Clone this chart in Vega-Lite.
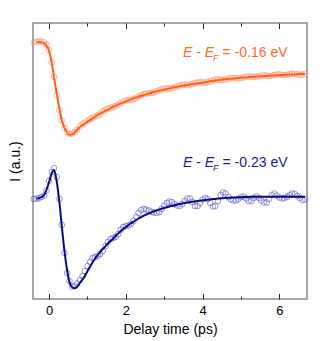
{
"$schema": "https://vega.github.io/schema/vega-lite/v6.json",
"width": 274, "height": 276,
"autosize": {"type": "none"},
"padding": {"left": 33, "top": 23, "right": 25, "bottom": 42},
"config": {
  "view": {"stroke": "#8a8a8a", "strokeWidth": 1.5},
  "font": "Liberation Sans",
  "axis": {"domain": false, "grid": false, "labelFont": "Liberation Sans", "titleFont": "Liberation Sans", "labelFontSize": 13, "titleFontSize": 14, "titleFontWeight": "normal", "labelColor": "#000", "titleColor": "#000", "tickColor": "#222", "tickWidth": 1}
},
"data": {"values": [
{"t":-0.40,"o":256.5,"of":null,"n":100,"nf":null},
{"t":-0.33,"o":257.3,"of":257,"n":100.3,"nf":100.5},
{"t":-0.27,"o":257.6,"of":257,"n":100.8,"nf":100.8},
{"t":-0.20,"o":257.3,"of":256.8,"n":102,"nf":101.8},
{"t":-0.13,"o":256.6,"of":256,"n":103.5,"nf":104},
{"t":-0.07,"o":254.5,"of":253.5,"n":108.5,"nf":109},
{"t":0.00,"o":249,"of":248,"n":118,"nf":117},
{"t":0.07,"o":236.5,"of":236,"n":127,"nf":126},
{"t":0.13,"o":222,"of":221,"n":131,"nf":129},
{"t":0.20,"o":204,"of":205,"n":122,"nf":117},
{"t":0.27,"o":189,"of":190,"n":100,"nf":96},
{"t":0.33,"o":178.5,"of":179,"n":74,"nf":73},
{"t":0.40,"o":171,"of":171,"n":46,"nf":48},
{"t":0.47,"o":166.5,"of":166.3,"n":26,"nf":28.5},
{"t":0.53,"o":164.8,"of":164.3,"n":18,"nf":17},
{"t":0.60,"o":165.3,"of":164.6,"n":12.5,"nf":11.8},
{"t":0.67,"o":167,"of":166.6,"n":13,"nf":10.8},
{"t":0.73,"o":169.5,"of":169.3,"n":15.5,"nf":12.3},
{"t":0.80,"o":172.5,"of":171.9,"n":19,"nf":16},
{"t":0.87,"o":174.8,"of":173.9,"n":23,"nf":19.5},
{"t":0.93,"o":176.5,"of":175.5,"n":28,"nf":23},
{"t":1.00,"o":178.3,"of":177.4,"n":33,"nf":28},
{"t":1.07,"o":180,"of":179.2,"n":37,"nf":32.5},
{"t":1.13,"o":181.3,"of":180.7,"n":41,"nf":36.5},
{"t":1.20,"o":182.5,"of":182.4,"n":42,"nf":40.5},
{"t":1.27,"o":183.8,"of":184.0,"n":43,"nf":44},
{"t":1.33,"o":185.5,"of":185.3,"n":45,"nf":47},
{"t":1.40,"o":187.5,"of":186.8,"n":48,"nf":50},
{"t":1.47,"o":189.3,"of":188.3,"n":53,"nf":52.8},
{"t":1.53,"o":190.5,"of":189.5,"n":57,"nf":55.5},
{"t":1.60,"o":191.3,"of":190.9,"n":60,"nf":58},
{"t":1.67,"o":192,"of":192.1,"n":61,"nf":60.5},
{"t":1.73,"o":193,"of":193.3,"n":62,"nf":63},
{"t":1.80,"o":194.6,"of":194.5,"n":65,"nf":65.5},
{"t":1.87,"o":196.3,"of":195.6,"n":69.5,"nf":68},
{"t":1.93,"o":197.6,"of":196.6,"n":72,"nf":70},
{"t":2.00,"o":198.5,"of":197.7,"n":73,"nf":72},
{"t":2.07,"o":199,"of":198.7,"n":73.5,"nf":74},
{"t":2.13,"o":199.3,"of":199.6,"n":75,"nf":75.8},
{"t":2.20,"o":200,"of":200.6,"n":78,"nf":77.5},
{"t":2.27,"o":201,"of":201.5,"n":82,"nf":79},
{"t":2.33,"o":202.5,"of":202.3,"n":86,"nf":80.5},
{"t":2.40,"o":204,"of":203.2,"n":89,"nf":82},
{"t":2.47,"o":205,"of":204.0,"n":90,"nf":83.3},
{"t":2.53,"o":205.5,"of":204.7,"n":89.5,"nf":84.5},
{"t":2.60,"o":205.8,"of":205.5,"n":88.5,"nf":85.6},
{"t":2.67,"o":206,"of":206.3,"n":87,"nf":86.7},
{"t":2.73,"o":206.5,"of":206.9,"n":86.5,"nf":87.7},
{"t":2.80,"o":207.5,"of":207.6,"n":86,"nf":88.6},
{"t":2.87,"o":208.8,"of":208.3,"n":87,"nf":89.5},
{"t":2.93,"o":209.8,"of":208.9,"n":90,"nf":90.3},
{"t":3.00,"o":210.5,"of":209.5,"n":93,"nf":91},
{"t":3.07,"o":210.6,"of":210.1,"n":96,"nf":91.8},
{"t":3.13,"o":210.5,"of":210.6,"n":97.5,"nf":92.5},
{"t":3.20,"o":210.8,"of":211.2,"n":97,"nf":93.1},
{"t":3.27,"o":211.5,"of":211.7,"n":95,"nf":93.7},
{"t":3.33,"o":212.6,"of":212.2,"n":93.5,"nf":94.3},
{"t":3.40,"o":213.5,"of":212.7,"n":93,"nf":94.9},
{"t":3.47,"o":214,"of":213.2,"n":95,"nf":95.4},
{"t":3.53,"o":214.2,"of":213.6,"n":98,"nf":95.9},
{"t":3.60,"o":214,"of":214.1,"n":100.5,"nf":96.4},
{"t":3.67,"o":214.3,"of":214.5,"n":100.5,"nf":96.8},
{"t":3.73,"o":215,"of":214.9,"n":97,"nf":97.2},
{"t":3.80,"o":215.8,"of":215.3,"n":93,"nf":97.6},
{"t":3.87,"o":216.5,"of":215.7,"n":93,"nf":98},
{"t":3.93,"o":216.8,"of":216.0,"n":96,"nf":98.3},
{"t":4.00,"o":216.6,"of":216.4,"n":99.5,"nf":98.7},
{"t":4.07,"o":216.5,"of":216.8,"n":101,"nf":99},
{"t":4.13,"o":217,"of":217.1,"n":100,"nf":99.3},
{"t":4.20,"o":217.8,"of":217.9,"n":96,"nf":99.6},
{"t":4.27,"o":218.6,"of":218.2,"n":92.5,"nf":99.9},
{"t":4.33,"o":219.3,"of":218.5,"n":93,"nf":100.1},
{"t":4.40,"o":219.5,"of":218.9,"n":98,"nf":100.4},
{"t":4.47,"o":219.2,"of":219.2,"n":104,"nf":100.6},
{"t":4.53,"o":219,"of":219.4,"n":106.5,"nf":100.8},
{"t":4.60,"o":219.4,"of":219.8,"n":105.5,"nf":101},
{"t":4.67,"o":220.2,"of":220.0,"n":102,"nf":101.2},
{"t":4.73,"o":221,"of":220.3,"n":99.5,"nf":101.3},
{"t":4.80,"o":221.3,"of":220.5,"n":98.5,"nf":101.5},
{"t":4.87,"o":221,"of":220.8,"n":98.5,"nf":101.6},
{"t":4.93,"o":220.6,"of":221.0,"n":100,"nf":101.7},
{"t":5.00,"o":220.8,"of":221.2,"n":102,"nf":101.8},
{"t":5.07,"o":221.5,"of":221.4,"n":102.5,"nf":101.9},
{"t":5.13,"o":222.2,"of":221.6,"n":100.5,"nf":102},
{"t":5.20,"o":222.5,"of":221.9,"n":98,"nf":102.1},
{"t":5.27,"o":222.3,"of":222.1,"n":98,"nf":102.2},
{"t":5.33,"o":222,"of":222.2,"n":101,"nf":102.2},
{"t":5.40,"o":222.2,"of":222.4,"n":102.5,"nf":102.3},
{"t":5.47,"o":222.9,"of":222.6,"n":101,"nf":102.3},
{"t":5.53,"o":223.4,"of":222.8,"n":98.5,"nf":102.3},
{"t":5.60,"o":223.6,"of":223.0,"n":96.5,"nf":102.3},
{"t":5.67,"o":223.3,"of":223.1,"n":96.5,"nf":102.3},
{"t":5.73,"o":223,"of":223.3,"n":100,"nf":102.3},
{"t":5.80,"o":223.3,"of":223.5,"n":104,"nf":102.3},
{"t":5.87,"o":224,"of":223.6,"n":105.5,"nf":102.3},
{"t":5.93,"o":224.5,"of":223.7,"n":103.5,"nf":102.3},
{"t":6.00,"o":224.6,"of":223.8,"n":101.5,"nf":102.3},
{"t":6.07,"o":224.2,"of":224.0,"n":100.5,"nf":102.3},
{"t":6.13,"o":223.9,"of":224.2,"n":101,"nf":102.3},
{"t":6.20,"o":224.2,"of":224.3,"n":102,"nf":102.3},
{"t":6.27,"o":224.9,"of":224.4,"n":104,"nf":102.3},
{"t":6.33,"o":225.3,"of":224.5,"n":105.5,"nf":102.3},
{"t":6.40,"o":225.2,"of":224.6,"n":105,"nf":102.3},
{"t":6.47,"o":224.8,"of":224.8,"n":103,"nf":102.3},
{"t":6.53,"o":224.3,"of":224.9,"n":101,"nf":102.3},
{"t":6.60,"o":224.5,"of":224.9,"n":99,"nf":102.3},
{"t":6.67,"o":225,"of":225.0,"n":99.5,"nf":102.3}
]},
"resolve": {"axis": {"x": "independent", "y": "independent"}},
"layer": [
  {"mark": {"type": "point", "shape": "circle", "filled": false, "size": 32, "strokeWidth": 0.8, "color": "#ff8a5c", "opacity": 0.8},
   "encoding": {
     "x": {"field": "t", "type": "quantitative", "scale": {"domain": [-0.42, 6.72], "nice": false, "zero": false},
           "axis": {"orient": "bottom", "values": [0, 2, 4, 6], "ticks": false, "labelPadding": 5.5, "title": "Delay time (ps)", "titlePadding": 5}},
     "y": {"field": "o", "type": "quantitative", "scale": {"domain": [0, 276], "nice": false, "zero": false},
           "axis": {"orient": "left", "title": "I (a.u.)", "ticks": false, "labels": false, "titlePadding": 11}}
   }},
  {"mark": {"type": "point", "shape": "circle", "filled": false, "size": 32, "strokeWidth": 0.8, "color": "#5a5acc", "opacity": 0.8},
   "encoding": {
     "x": {"field": "t", "type": "quantitative", "axis": {"orient": "bottom", "values": [0, 2, 4, 6], "offset": -5.5, "tickSize": 5.5, "labels": false, "title": null}},
     "y": {"field": "n", "type": "quantitative", "axis": null}
   }},
  {"mark": {"type": "line", "color": "#ff5f1f", "strokeWidth": 2, "interpolate": "monotone"},
   "encoding": {
     "x": {"field": "t", "type": "quantitative", "axis": {"orient": "top", "values": [0, 2, 4, 6], "offset": -5.5, "tickSize": 5.5, "labels": false, "title": null}},
     "y": {"field": "of", "type": "quantitative", "axis": null}
   }},
  {"mark": {"type": "line", "color": "#0a0a85", "strokeWidth": 2, "interpolate": "monotone"},
   "encoding": {
     "x": {"field": "t", "type": "quantitative", "axis": {"orient": "top", "values": [1, 3, 5], "offset": -3, "tickSize": 3, "labels": false, "title": null}},
     "y": {"field": "nf", "type": "quantitative", "axis": null}
   }},
  {"data": {"values": [{}]},
   "encoding": {
     "x": {"datum": 3.49, "type": "quantitative", "axis": {"orient": "bottom", "values": [1, 3, 5], "offset": -3, "tickSize": 3, "labels": false, "title": null}},
     "y": {"datum": 242.3, "type": "quantitative", "axis": null}
   },
   "layer": [
     {"mark": {"type": "text", "text": "E", "fontStyle": "italic", "font": "Liberation Sans", "fontSize": 14, "align": "left", "baseline": "alphabetic", "color": "#ff6a2b", "dx": 0}},
     {"mark": {"type": "text", "text": "-", "font": "Liberation Sans", "fontSize": 14, "align": "left", "baseline": "alphabetic", "color": "#ff6a2b", "dx": 13.2}},
     {"mark": {"type": "text", "text": "E", "fontStyle": "italic", "font": "Liberation Sans", "fontSize": 14, "align": "left", "baseline": "alphabetic", "color": "#ff6a2b", "dx": 21.8}},
     {"mark": {"type": "text", "text": "F", "fontStyle": "italic", "font": "Liberation Sans", "fontSize": 9, "align": "left", "baseline": "alphabetic", "color": "#ff6a2b", "dx": 30, "dy": 4}},
     {"mark": {"type": "text", "text": "= -0.16 eV", "font": "Liberation Sans", "fontSize": 14, "align": "left", "baseline": "alphabetic", "color": "#ff6a2b", "dx": 39.5}}
   ]},
  {"data": {"values": [{}]},
   "encoding": {
     "x": {"datum": 3.49, "type": "quantitative", "axis": null},
     "y": {"datum": 132.3, "type": "quantitative", "axis": null}
   },
   "layer": [
     {"mark": {"type": "text", "text": "E", "fontStyle": "italic", "font": "Liberation Sans", "fontSize": 14, "align": "left", "baseline": "alphabetic", "color": "#1c1c8c", "dx": 0}},
     {"mark": {"type": "text", "text": "-", "font": "Liberation Sans", "fontSize": 14, "align": "left", "baseline": "alphabetic", "color": "#1c1c8c", "dx": 13.2}},
     {"mark": {"type": "text", "text": "E", "fontStyle": "italic", "font": "Liberation Sans", "fontSize": 14, "align": "left", "baseline": "alphabetic", "color": "#1c1c8c", "dx": 21.8}},
     {"mark": {"type": "text", "text": "F", "fontStyle": "italic", "font": "Liberation Sans", "fontSize": 9, "align": "left", "baseline": "alphabetic", "color": "#1c1c8c", "dx": 30, "dy": 4}},
     {"mark": {"type": "text", "text": "= -0.23 eV", "font": "Liberation Sans", "fontSize": 14, "align": "left", "baseline": "alphabetic", "color": "#1c1c8c", "dx": 39.5}}
   ]}
]
}
